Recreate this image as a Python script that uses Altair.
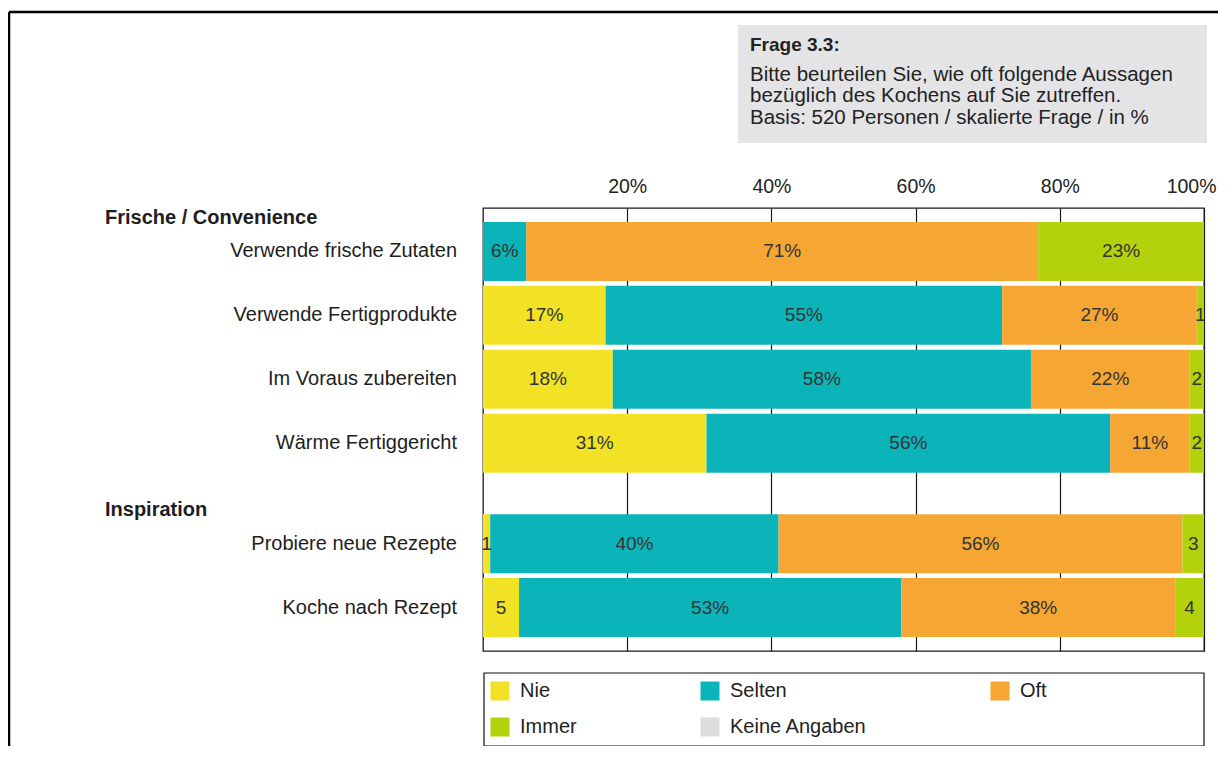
import altair as alt
import pandas as pd

# ---------------- data ----------------
rows = [
    "Verwende frische Zutaten",
    "Verwende Fertigprodukte",
    "Im Voraus zubereiten",
    "Wärme Fertiggericht",
    "Probiere neue Rezepte",
    "Koche nach Rezept",
]
row_group = [0, 0, 0, 0, 1, 1]
groups = ["Frische / Convenience", "Inspiration"]
categories = ["Nie", "Selten", "Oft", "Immer", "Keine Angaben"]
colors = ["#F2E226", "#0AB4B8", "#F6A633", "#B4D20B", "#DDDDE0"]
nie = [0, 17, 18, 31, 1, 5]
selten = [6, 55, 58, 56, 40, 53]
oft = [71, 27, 22, 11, 56, 38]
immer = [23, 1, 2, 2, 3, 4]
keine = [0, 0, 0, 0, 0, 0]
tick_values = [20, 40, 60, 80, 100]
question_title = "Frage 3.3:"
question_lines = [
    "Bitte beurteilen Sie, wie oft folgende Aussagen",
    "bezüglich des Kochens auf Sie zutreffen.",
    "Basis: 520 Personen / skalierte Frage / in %",
]

# ---------------- layout helpers ----------------
FONT = "Liberation Sans"
GROUP_GAP = 0.57
HEADER_OFFSET = 0.52
W, H = 721, 443
PAD = {"left": 475, "top": 200, "right": 14, "bottom": 95}

pos = [i + GROUP_GAP * g for i, g in enumerate(row_group)]
series = [nie, selten, oft, immer, keine]

recs = []
for r, (row, p) in enumerate(zip(rows, pos)):
    start = 0
    for ci, (cat, vals) in enumerate(zip(categories, series)):
        v = vals[r]
        if v <= 0:
            continue
        recs.append(dict(row=row, pos=p, cat=cat, order=ci, v=v, start=start,
                         end=start + v, mid=start + v / 2,
                         label=f"{v}%" if v >= 6 else str(v)))
        start += v
bars_df = pd.DataFrame(recs)

rows_df = pd.DataFrame({"row": rows, "pos": pos})
first_pos = {}
for g, p in zip(row_group, pos):
    first_pos.setdefault(g, p)
head_df = pd.DataFrame({"group": groups,
                        "pos": [first_pos[i] - HEADER_OFFSET for i in range(len(groups))]})

xscale = alt.Scale(domain=[0, 100], nice=False, zero=True)
yscale = alt.Scale(domain=[-0.6, pos[-1] + 0.6], reverse=True, nice=False, zero=False)

xaxis = alt.Axis(orient="top", values=tick_values, labelExpr="datum.value + '%'",
                 grid=True, gridColor="#1a1a1a", gridWidth=1.2, domain=False,
                 ticks=False, tickSize=0, labelPadding=12, labelFontSize=19.5,
                 labelFlush=True, labelFlushOffset=12,
                 labelColor="#222222", labelFont=FONT, title=None)

bars = alt.Chart(bars_df).mark_bar(size=59).encode(
    x=alt.X("start:Q", scale=xscale, axis=xaxis),
    x2="end:Q",
    y=alt.Y("pos:Q", scale=yscale, axis=None),
    color=alt.Color("cat:N", scale=alt.Scale(domain=categories, range=colors),
                    legend=alt.Legend(orient="none", legendX=7, legendY=473,
                                      direction="horizontal", columns=3, title=None,
                                      symbolType="square", symbolSize=361,
                                      symbolStrokeWidth=0, labelFontSize=20,
                                      labelOffset=10, columnPadding=123,
                                      rowPadding=16, gridAlign="each",
                                      labelColor="#222222", labelFont=FONT,
                                      padding=0)),
)

bar_text = alt.Chart(bars_df).mark_text(fontSize=19, color="#333333", font=FONT,
                                        baseline="middle", align="center").encode(
    x=alt.X("mid:Q", scale=xscale, axis=xaxis),
    y=alt.Y("pos:Q", scale=yscale, axis=None),
    text="label:N",
)

row_text = alt.Chart(rows_df).mark_text(fontSize=20, color="#1e1e1e", font=FONT,
                                        baseline="middle", align="right").encode(
    x=alt.value(-26),
    y=alt.Y("pos:Q", scale=yscale, axis=None),
    text="row:N",
)

head_text = alt.Chart(head_df).mark_text(fontSize=20, color="#1e1e1e", font=FONT,
                                         fontWeight="bold", baseline="middle",
                                         align="left").encode(
    x=alt.value(-378),
    y=alt.Y("pos:Q", scale=yscale, axis=None),
    text="group:N",
)

one = pd.DataFrame({"a": [0]})

qbox = alt.Chart(one).mark_rect(color="#E4E4E6").encode(
    x=alt.value(255), x2=alt.value(724), y=alt.value(-183), y2=alt.value(-65))

qtitle = alt.Chart(one).mark_text(fontSize=19, fontWeight="bold", color="#222222",
                                  font=FONT, align="left", baseline="alphabetic").encode(
    x=alt.value(267), y=alt.value(-157), text=alt.value(question_title))

qtext = alt.Chart(one).mark_text(fontSize=20.5, color="#222222", font=FONT,
                                 align="left", baseline="alphabetic",
                                 lineBreak="\n", lineHeight=21.3).encode(
    x=alt.value(267), y=alt.value(-127), text=alt.value("\n".join(question_lines)))

legend_box = alt.Chart(one).mark_rect(fill=None, stroke="#111111", strokeWidth=1.2).encode(
    x=alt.value(1), x2=alt.value(721), y=alt.value(465), y2=alt.value(538))

frame_top = alt.Chart(one).mark_rule(color="black", strokeWidth=2.5).encode(
    x=alt.value(-474), x2=alt.value(760), y=alt.value(-196))
frame_left = alt.Chart(one).mark_rule(color="black", strokeWidth=2.5).encode(
    x=alt.value(-474), y=alt.value(-196), y2=alt.value(600))

chart = alt.layer(
    frame_top, frame_left, qbox, qtitle, qtext,
    bars, bar_text, row_text, head_text, legend_box,
).properties(
    width=W, height=H,
    padding=PAD,
    autosize=alt.AutoSizeParams(type="none"),
).configure(
    font=FONT
).configure_view(
    stroke="#1a1a1a", strokeWidth=1.3
)

chart.save("out.html", embed_options={"renderer": "svg", "actions": False})
